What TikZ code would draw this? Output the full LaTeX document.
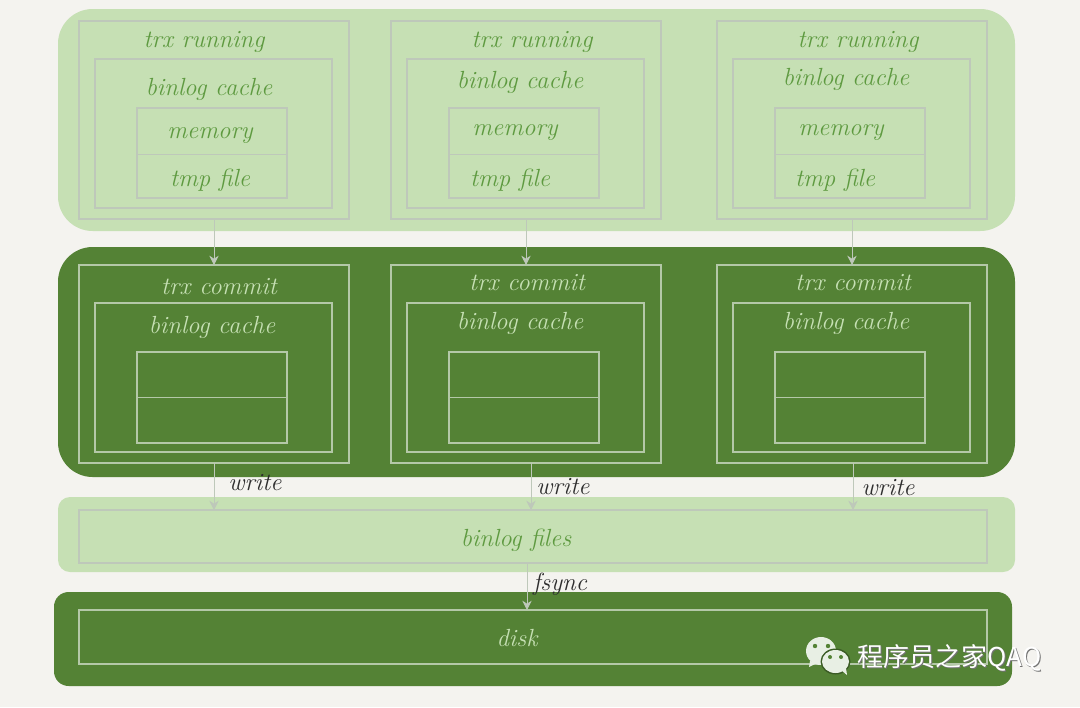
\documentclass[tikz,border=0pt]{standalone}
\usepackage{fontspec}
\setmainfont{Latin Modern Roman}
\newfontfamily\cjkfont{Noto Sans CJK SC}
\usetikzlibrary{arrows.meta}
\definecolor{paper}{HTML}{F4F3EF}
\definecolor{lightband}{HTML}{C6E0B4}
\definecolor{darkband}{HTML}{548235}
\definecolor{lightline}{HTML}{BEC8BA}
\definecolor{darkline}{HTML}{B4C8A8}
\definecolor{lighttext}{HTML}{5E9A40}
\definecolor{inktext}{HTML}{2E2E2E}
\definecolor{iconfill}{HTML}{E8EFE4}
\newcommand{\pxbox}[6]{\node[#6,minimum width={(#4-#2)*0.75pt},minimum height={(#5-#3)*0.75pt}] (#1) at ({(#2+#4)/2},{(#3+#5)/2}) {};}
\tikzset{
  x=0.75pt,y=-0.75pt,
  band/.style={rectangle,inner sep=0pt,outer sep=0pt},
  lightbox/.style={rectangle,draw=lightline,line width=0.9pt,inner sep=0pt,outer sep=0pt},
  darkbox/.style={rectangle,draw=darkline,line width=0.8pt,inner sep=0pt,outer sep=0pt},
  lightdiv/.style={draw=lightline,line width=0.45pt},
  darkdiv/.style={draw=darkline,line width=0.45pt},
  lightlabel/.style={text=lighttext,font=\itshape\fontsize{18.6}{22}\selectfont,inner sep=0pt},
  darklabel/.style={text=lightband,font=\itshape\fontsize{18.6}{22}\selectfont,inner sep=0pt},
  inklabel/.style={text=inktext,font=\itshape\fontsize{18.6}{22}\selectfont,inner sep=0pt},
  flow/.style={draw=lightline,line width=0.6pt,-{Stealth[length=7pt,width=7pt]}},
}
\begin{document}
\begin{tikzpicture}
\useasboundingbox (0,0) rectangle (1080,707);
\fill[paper] (0,0) rectangle (1080,707);
% bands
\pxbox{bandA}{58}{9}{1015}{231}{band,fill=lightband,rounded corners=26pt}
\pxbox{bandB}{58}{247}{1015}{477}{band,fill=darkband,rounded corners=26pt}
\pxbox{bandC}{58}{497}{1015}{572}{band,fill=lightband,rounded corners=9pt}
\pxbox{bandD}{54}{592}{1012}{686}{band,fill=darkband,rounded corners=11pt}
% row 1
\pxbox{runA}{79}{21}{349}{219}{lightbox}
\pxbox{runB}{391}{21}{661}{219}{lightbox}
\pxbox{runC}{717}{21}{987}{219}{lightbox}
\pxbox{cacheA}{95}{59}{332}{208}{lightbox}
\pxbox{cacheB}{407}{59}{644}{208}{lightbox}
\pxbox{cacheC}{733}{59}{970}{208}{lightbox}
\pxbox{innerA}{137}{108}{287}{198}{lightbox}
\pxbox{innerB}{449}{108}{599}{198}{lightbox}
\pxbox{innerC}{775}{108}{925}{198}{lightbox}
\coordinate (upperrow) at (0,154);
\draw[lightdiv] (innerA.west |- upperrow) -- (innerA.east |- upperrow);
\draw[lightdiv] (innerB.west |- upperrow) -- (innerB.east |- upperrow);
\draw[lightdiv] (innerC.west |- upperrow) -- (innerC.east |- upperrow);
% row 2
\pxbox{comA}{79}{265}{349}{463}{darkbox}
\pxbox{comB}{391}{265}{661}{463}{darkbox}
\pxbox{comC}{717}{265}{987}{463}{darkbox}
\pxbox{ccacheA}{95}{303}{332}{452}{darkbox}
\pxbox{ccacheB}{407}{303}{644}{452}{darkbox}
\pxbox{ccacheC}{733}{303}{970}{452}{darkbox}
\pxbox{cinnerA}{137}{352}{287}{443}{darkbox}
\pxbox{cinnerB}{449}{352}{599}{443}{darkbox}
\pxbox{cinnerC}{775}{352}{925}{443}{darkbox}
\coordinate (lowerrow) at (0,397);
\draw[darkdiv] (cinnerA.west |- lowerrow) -- (cinnerA.east |- lowerrow);
\draw[darkdiv] (cinnerB.west |- lowerrow) -- (cinnerB.east |- lowerrow);
\draw[darkdiv] (cinnerC.west |- lowerrow) -- (cinnerC.east |- lowerrow);
% lower boxes
\pxbox{files}{79}{510}{987}{563}{lightbox}
\pxbox{disk}{79}{610}{987}{664}{darkbox}
% labels row 1
\node[lightlabel] (l1) at (204,42) {trx running};
\node[lightlabel] (l2) at (532,42) {trx running};
\node[lightlabel] (l3) at (858,42) {trx running};
\node[lightlabel] (l4) at (209,89) {binlog cache};
\node[lightlabel] (l5) at (520,82) {binlog cache};
\node[lightlabel] (l6) at (846,79) {binlog cache};
\node[lightlabel] (l7) at (210,136) {memory};
\node[lightlabel] (l8) at (515,133) {memory};
\node[lightlabel] (l9) at (841,133) {memory};
\node[lightlabel] (l10) at (210,180) {tmp file};
\node[lightlabel] (l11) at (510,180) {tmp file};
\node[lightlabel] (l12) at (835,180) {tmp file};
% labels row 2
\node[darklabel] (d1) at (219,287) {trx commit};
\node[darklabel] (d2) at (527,283) {trx commit};
\node[darklabel] (d3) at (853,283) {trx commit};
\node[darklabel] (d4) at (212,327) {binlog cache};
\node[darklabel] (d5) at (520,323) {binlog cache};
\node[darklabel] (d6) at (846,323) {binlog cache};
\node[lightlabel] (f1) at (516,540) {binlog files};
\node[darklabel] (f2) at (517,638) {disk};
% connectors
\draw[flow] (runA.south) -- (comA.north);
\draw[flow] (runB.south) -- (comB.north);
\draw[flow] (runC.south) -- (comC.north);
\coordinate (wA) at (comA.south);
\coordinate (wB) at ([xshift=3.75pt]comB.south);
\coordinate (wC) at ([xshift=0.75pt]comC.south);
\draw[flow] (wA) -- (wA |- files.north);
\draw[flow] (wB) -- (wB |- files.north);
\draw[flow] (wC) -- (wC |- files.north);
\coordinate (sy) at (527,563);
\draw[flow] (sy |- files.south) -- (sy |- disk.north);
\node[inklabel] (w1) at (255,483) {write};
\node[inklabel] (w2) at (563,487) {write};
\node[inklabel] (w3) at (888,488) {write};
\node[inklabel] (w4) at (560,584) {fsync};
% watermark icon
\begin{scope}
\fill[iconfill] (821,651) ellipse [x radius=15,y radius=14];
\fill[iconfill] (810,661) -- (809,667) -- (817,663) -- cycle;
\fill[darkband] (815,646) circle (2.2);
\fill[darkband] (828,646) circle (2.2);
\fill[darkband!70!black] (835.5,661.5) ellipse [x radius=15,y radius=13];
\fill[iconfill] (835.5,661.5) ellipse [x radius=13.5,y radius=11.5];
\fill[iconfill] (841,670) -- (847,675) -- (846,668) -- cycle;
\fill[darkband] (830,657) circle (2);
\fill[darkband] (841,657) circle (2);
\end{scope}
\node[inner sep=0pt,text=black!55,font=\cjkfont\fontsize{19.5}{22}\selectfont] (mark0) at (950.5,658.5) {程序员之家QAQ};
\node[inner sep=0pt,text=white,font=\cjkfont\fontsize{19.5}{22}\selectfont] (mark) at (949.5,657.5) {程序员之家QAQ};
\end{tikzpicture}
\end{document}
